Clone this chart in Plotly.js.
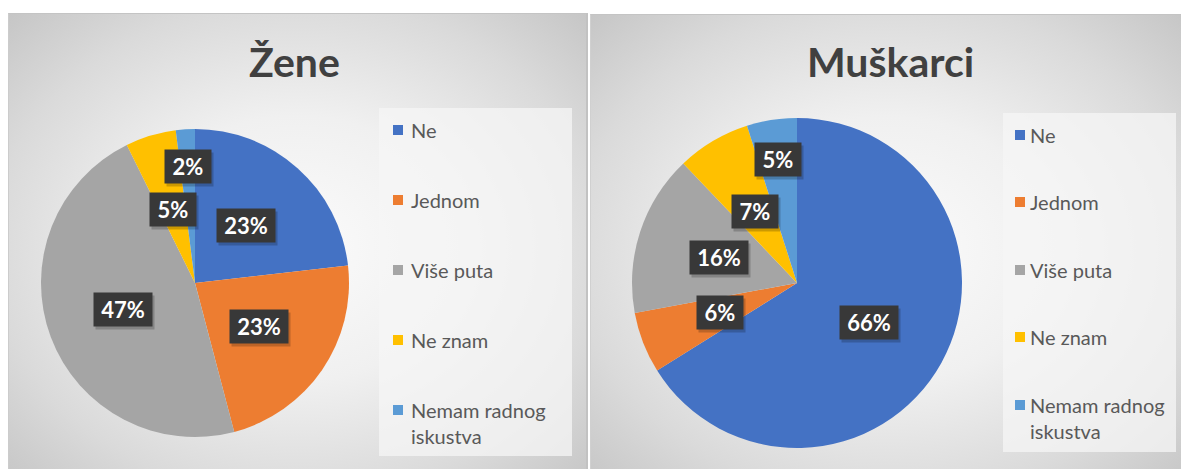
<!DOCTYPE html>
<html>
<head>
<meta charset="utf-8">
<script src="https://cdn.plot.ly/plotly-3.0.1.min.js"></script>
<style>
  html, body { margin: 0; padding: 0; background: #ffffff; }
  #wrap { position: relative; width: 1181px; height: 469px; overflow: hidden; }
  .panel { position: absolute; box-sizing: border-box; }
  #panelL { left: 8px; top: 13px; width: 580px; height: 470px;
    border-top: 1px solid #c4c4c4; border-left: 1px solid #cccccc; border-right: 2px solid #c2c2c2;
    background: radial-gradient(ellipse farthest-corner at 50% 50%, #fbfbfb 0%, #f0f0f0 40%, #dadada 75%, #c6c6c6 100%); }
  #panelR { left: 590px; top: 14px; width: 595px; height: 470px;
    border-top: 1px solid #c4c4c4; border-left: 1px solid #d0d0d0;
    background: radial-gradient(ellipse farthest-corner at 50% 50%, #fbfbfb 0%, #f0f0f0 40%, #dadada 75%, #c6c6c6 100%); }
  #chart { position: absolute; left: 0; top: 0; width: 1181px; height: 469px; }
</style>
</head>
<body>
<div id="wrap">
  <div class="panel" id="panelL"></div>
  <div class="panel" id="panelR"></div>
  <div id="chart"></div>
</div>
<script>
// ---- data ----
var categories = ['Ne', 'Jednom', 'Više puta', 'Ne znam', 'Nemam radnog iskustva'];
var legendLabels = ['Ne', 'Jednom', 'Više puta', 'Ne znam', 'Nemam radnog<br>iskustva'];
var zeneValues = [23.2, 22.7, 46.8, 5.3, 2.0];
var muskarciValues = [66.1, 6.0, 15.8, 7.2, 4.9];
var chartTitles = ['Žene', 'Muškarci'];

// ---- styles ----
var colors = ['#4472C4', '#ED7D31', '#A5A5A5', '#FFC000', '#5B9BD5'];
var W = 1181, H = 469;
var FONT = 'Lato, "Open Sans", sans-serif';

// pie placement (pixels): center + radius
var pies = [
  { values: zeneValues, cx: 195, cy: 283, r: 154, title: chartTitles[0], titleX: 294,
    legend: { x0: 379, x1: 572, y0: 108, y1: 456, mx: 393, tx: 409, ys: [130, 200, 270, 340, 423] } },
  { values: muskarciValues, cx: 797, cy: 283, r: 165, title: chartTitles[1], titleX: 890,
    legend: { x0: 1003, x1: 1176, y0: 113, y1: 452, mx: 1015, tx: 1028, ys: [135, 202, 270, 337, 418] } }
];

var data = [];
var annotations = [];
var shapes = [];

pies.forEach(function (p) {
  data.push({
    type: 'pie',
    labels: categories,
    values: p.values,
    sort: false,
    direction: 'clockwise',
    rotation: 0,
    textinfo: 'none',
    hoverinfo: 'label+percent',
    marker: { colors: colors, line: { width: 0 } },
    showlegend: false,
    domain: {
      x: [(p.cx - p.r) / W, (p.cx + p.r) / W],
      y: [1 - (p.cy + p.r) / H, 1 - (p.cy - p.r) / H]
    }
  });

  // title
  annotations.push({
    xref: 'paper', yref: 'paper', x: p.titleX / W, y: 1 - 61 / H,
    xanchor: 'center', yanchor: 'middle', showarrow: false,
    text: p.title,
    font: { family: FONT, size: 41, color: '#404040', weight: 700 }
  });

  // data labels, placed from the values
  var total = p.values.reduce(function (a, b) { return a + b; }, 0);
  var cum = 0;
  p.values.forEach(function (v) {
    var frac = v / total;
    var mid = (cum + frac / 2) * 2 * Math.PI;
    cum += frac;
    var f = frac < 0.05 ? 0.76 : 0.5;
    var px = p.cx + p.r * f * Math.sin(mid);
    var py = p.cy - p.r * f * Math.cos(mid);
    var txt = Math.round(frac * 100) + '%';
    var boxW = 12 * (txt.length - 1) + 26;
    // shadow box (no text)
    annotations.push({
      xref: 'paper', yref: 'paper', x: px / W, y: 1 - py / H,
      xanchor: 'center', yanchor: 'middle', showarrow: false,
      xshift: 2, yshift: -3, width: boxW, height: 25,
      text: '\u00a0', bgcolor: 'rgba(0,0,0,0.2)', borderpad: 4,
      font: { family: FONT, size: 10, color: 'rgba(0,0,0,0)' }
    });
    annotations.push({
      xref: 'paper', yref: 'paper', x: px / W, y: 1 - py / H,
      xanchor: 'center', yanchor: 'middle', showarrow: false,
      width: boxW, height: 25,
      text: txt, bgcolor: '#383838', borderpad: 4,
      font: { family: FONT, size: 22, color: '#ffffff', weight: 700 }
    });
  });

  // legend
  var L = p.legend;
  shapes.push({
    type: 'rect', xref: 'paper', yref: 'paper', layer: 'below',
    x0: L.x0 / W, x1: L.x1 / W, y0: 1 - L.y1 / H, y1: 1 - L.y0 / H,
    fillcolor: 'rgba(245,245,245,0.75)', line: { width: 0 }
  });
  legendLabels.forEach(function (lab, i) {
    var yc = L.ys[i];
    var markY = (i === legendLabels.length - 1) ? yc - 13 : yc;
    shapes.push({
      type: 'rect', xref: 'paper', yref: 'paper',
      x0: L.mx / W, x1: (L.mx + 10) / W, y0: 1 - (markY + 5) / H, y1: 1 - (markY - 5) / H,
      fillcolor: colors[i], line: { width: 0 }
    });
    annotations.push({
      xref: 'paper', yref: 'paper', x: L.tx / W, y: 1 - yc / H,
      xanchor: 'left', yanchor: 'middle', align: 'left', showarrow: false,
      text: lab,
      font: { family: FONT, size: 20, color: '#595959' }
    });
  });
});

var layout = {
  width: W, height: H,
  margin: { l: 0, r: 0, t: 0, b: 0 },
  paper_bgcolor: 'rgba(0,0,0,0)',
  plot_bgcolor: 'rgba(0,0,0,0)',
  showlegend: false,
  annotations: annotations,
  shapes: shapes
};

Plotly.newPlot('chart', data, layout, { displayModeBar: false, staticPlot: true });
</script>
</body>
</html>
